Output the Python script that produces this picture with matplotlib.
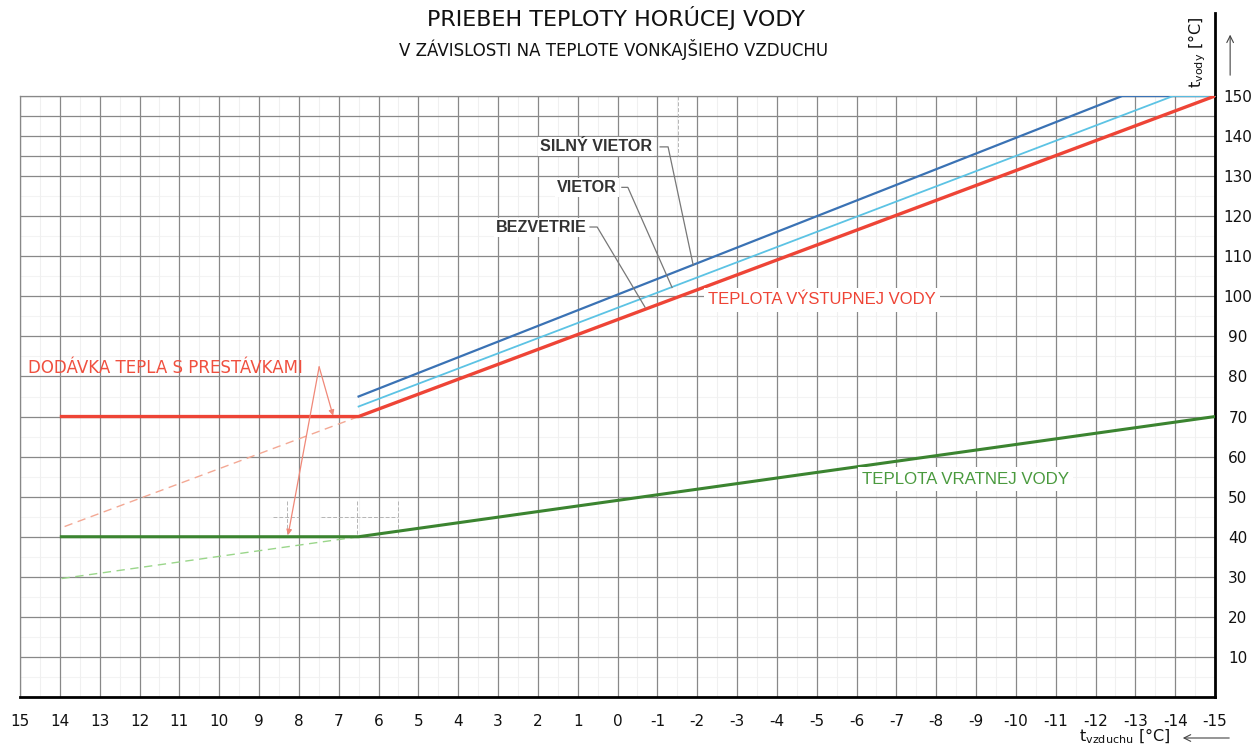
import matplotlib
matplotlib.use("Agg")
import matplotlib.pyplot as plt
import numpy as np

plt.rcParams["axes.unicode_minus"] = False

# outdoor air temperature (x, reversed axis) vs. water temperature (y)
x_out_red = [14, 6.5, -15]
y_out_red = [70, 70, 150]
x_silny = [6.5, -12.67, -15]
y_silny = [75, 150, 150]
x_vietor = [6.5, -13.95, -15]
y_vietor = [72.5, 150, 150]
x_return = [14, 6.5, -15]
y_return = [40, 40, 70]
# dashed extrapolations of the sloped parts
x_red_ext = [6.5, 14]
y_red_ext = [70, 42.1]
x_green_ext = [6.5, 14]
y_green_ext = [40, 29.5]

x_ticks = list(range(15, -16, -1))
y_ticks = list(range(10, 151, 10))

RED = "#ee4436"
BLUE = "#3a72b4"
LBLUE = "#5cc3e4"
GREEN = "#3b8430"
GRID = "#888888"

fig = plt.figure(figsize=(12.56, 7.46), dpi=100)
ax = fig.add_axes([20 / 1256, 1 - 697 / 746, 1195 / 1256, 601 / 746])
ax.set_xlim(15, -15)
ax.set_ylim(0, 150)

# grid: 1 °C vertical, 10 °C horizontal (5 °C at the top), faint halves
ax.set_xticks(x_ticks)
ax.set_xticks(np.arange(-14.5, 15, 1.0), minor=True)
ax.set_yticks(y_ticks)
ax.set_yticks([135, 145], minor=True)
ax.xaxis.grid(True, which="major", color=GRID, lw=0.9)
ax.xaxis.grid(True, which="minor", color="#f0f0f0", lw=0.8)
ax.yaxis.grid(True, which="major", color=GRID, lw=0.9)
ax.yaxis.grid(True, which="minor", color=GRID, lw=0.9)
for yy in range(5, 130, 10):
    ax.axhline(yy, color="#f3f3f3", lw=0.8, zorder=0.5)
ax.set_axisbelow(True)

for side in ("left", "top"):
    ax.spines[side].set_color(GRID)
    ax.spines[side].set_linewidth(0.9)
for side in ("right", "bottom"):
    ax.spines[side].set_color("black")
    ax.spines[side].set_linewidth(2.0)
ax.plot([-15, -15], [150, 170.7], color="black", lw=2.0, clip_on=False)

ax.yaxis.tick_right()
ax.tick_params(axis="both", which="both", length=0)
ax.tick_params(axis="x", labelsize=11, pad=12, colors="#111")
ax.tick_params(axis="y", labelsize=11, pad=16.5, colors="#111")
ax.set_yticklabels([str(v) for v in y_ticks])
for lbl in ax.get_yticklabels():
    lbl.set_horizontalalignment("center")

# faint construction marks
cons = dict(color="#b5b5b5", lw=0.7, ls=(0, (4, 2)), zorder=1)
ax.plot([-1.52, -1.52], [150, 135], **cons)
ax.plot([8.65, 8.0], [45, 45], **cons)
ax.plot([7.45, 5.5], [45, 45], **cons)
ax.plot([8.3, 8.3], [49, 40], **cons)
ax.plot([6.53, 6.53], [49, 40], **cons)
ax.plot([5.5, 5.5], [49, 40], **cons)

# dashed extrapolations
ax.plot(x_red_ext, y_red_ext, color="#f3a894", lw=1.0, ls=(0, (6, 4)), zorder=2)
ax.plot(x_green_ext, y_green_ext, color="#9ad68a", lw=1.0, ls=(0, (6, 4)), zorder=2)

# curves
ax.plot(x_return, y_return, color=GREEN, lw=2.2, zorder=4, solid_capstyle="butt")
ax.plot(x_silny, y_silny, color=BLUE, lw=1.6, zorder=4)
ax.plot(x_vietor, y_vietor, color=LBLUE, lw=1.3, zorder=4)
ax.plot(x_out_red, y_out_red, color=RED, lw=2.4, zorder=5, solid_capstyle="butt")

# wind labels with leader lines
wbox = dict(facecolor="white", edgecolor="none", pad=1.5)
lab_kw = dict(fontsize=11.6, color="#333333", family="Liberation Sans", fontweight="bold",
              va="center", ha="left", bbox=wbox, zorder=6)
ax.text(1.94, 137.3, "SILNÝ VIETOR", **lab_kw)
ax.text(1.52, 127.2, "VIETOR", **lab_kw)
ax.text(3.05, 117.2, "BEZVETRIE", **lab_kw)
lead = dict(color="#777777", lw=0.9, zorder=6)
ax.plot([-1.07, -1.27, -1.90], [137.3, 137.3, 107.8], **lead)
ax.plot([-0.11, -0.26, -1.37], [127.2, 127.2, 102.2], **lead)
ax.plot([0.69, 0.51, -0.69], [117.3, 117.3, 97.3], **lead)

tbox = dict(facecolor="white", edgecolor="none", pad=3)
ax.text(-2.27, 99.1, "TEPLOTA VÝSTUPNEJ VODY", fontsize=12, color=RED,
        family="Liberation Sans", va="center", ha="left", bbox=tbox, zorder=6)
ax.text(-6.14, 54.4, "TEPLOTA VRATNEJ VODY", fontsize=12.2, color="#4a9a3e",
        family="Liberation Sans", va="center", ha="left", bbox=tbox, zorder=6)

ax.text(14.8, 82.1, "DODÁVKA TEPLA S PRESTÁVKAMI", fontsize=12, color="#f0503f",
        va="center", ha="left", zorder=6)
arr = dict(arrowstyle="-|>", color="#f08878", lw=0.9, mutation_scale=8,
           shrinkA=0, shrinkB=0)
ax.annotate("", xy=(7.14, 70.2), xytext=(7.49, 82.4), arrowprops=arr, zorder=6)
ax.annotate("", xy=(8.27, 40.4), xytext=(7.49, 82.4), arrowprops=arr, zorder=6)

# axis labels
ax.text(-14.55, 161, r"t$_{\mathrm{vody}}$ [°C]", rotation=90, fontsize=11.5,
        ha="center", va="center", color="#111")
ax.annotate("", xy=(-15.38, 166), xytext=(-15.38, 154.5), annotation_clip=False,
            arrowprops=dict(arrowstyle="->", color="#444", lw=0.8, mutation_scale=12))
fig.text(1125 / 1256, 1 - 736 / 746, r"t$_{\mathrm{vzduchu}}$ [°C]", fontsize=11.5,
         ha="center", va="center", color="#111")
fig.add_artist(matplotlib.patches.FancyArrowPatch(
    (1232 / 1256, 1 - 738 / 746), (1180 / 1256, 1 - 738 / 746),
    transform=fig.transFigure, arrowstyle="->", color="#444", lw=0.8, mutation_scale=12))

fig.text(616 / 1256, 1 - 18 / 746, "PRIEBEH TEPLOTY HORÚCEJ VODY", fontsize=16,
         ha="center", va="center", color="#111")
fig.text(614 / 1256, 1 - 50 / 746, "V ZÁVISLOSTI NA TEPLOTE VONKAJŠIEHO VZDUCHU",
         fontsize=12, ha="center", va="center", color="#111")

fig.savefig("out.png", dpi=100, facecolor="white")
